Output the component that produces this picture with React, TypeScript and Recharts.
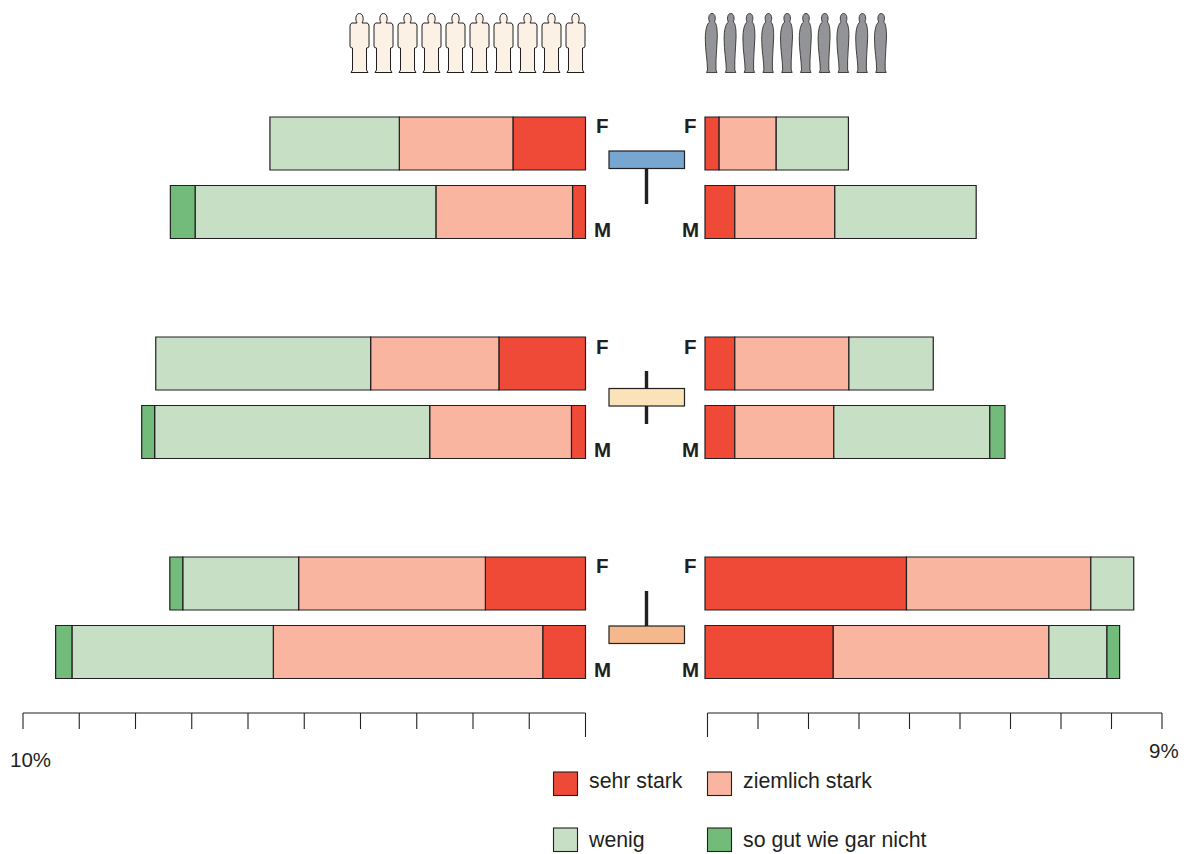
import { BarChart, Bar, XAxis, YAxis } from "recharts";

const rows = ["F", "M"];
const seriesNames = ["sehr stark", "ziemlich stark", "wenig", "so gut wie gar nicht"];
const seriesColors = ["#ef4938", "#f9b5a0", "#c7dfc5", "#72bb7b"];

// one list per group: [F, M] for each answer
const leftSehr = [[1.29, 0.23], [1.54, 0.25], [1.78, 0.76]];
const leftZiemlich = [[2.02, 2.43], [2.28, 2.52], [3.32, 4.79]];
const leftWenig = [[2.3, 4.28], [3.82, 4.89], [2.06, 3.58]];
const leftGar = [[0, 0.44], [0, 0.23], [0.23, 0.29]];

const rightSehr = [[0.28, 0.59], [0.59, 0.59], [3.99, 2.54]];
const rightZiemlich = [[1.13, 1.98], [2.26, 1.96], [3.65, 4.27]];
const rightWenig = [[1.43, 2.8], [1.67, 3.09], [0.85, 1.15]];
const rightGar = [[0, 0], [0, 0.3], [0, 0.25]];

const leftTicks = [0, 1, 2, 3, 4, 5, 6, 7, 8, 9, 10];
const rightTicks = [0, 1, 2, 3, 4, 5, 6, 7, 8, 9];
const leftMax = 10;
const rightMax = 9;
const leftAxisLabel = "10%";
const rightAxisLabel = "9%";

const ink = "#231f20";
const font = "'Liberation Sans', Arial, sans-serif";
const groupTops = [108.5, 328.5, 548.5];

function buildRows(lists: number[][][], g: number) {
  return rows.map((sex, r) => {
    const row: Record<string, any> = { sex };
    seriesNames.forEach((name, s) => {
      row[name] = lists[s][g][r];
    });
    return row;
  });
}

function GroupChart({ lists, g, reversed, max, left, width }: any) {
  // 2px of margin each side so the bar outlines are not cut off by the svg edge
  return (
    <div style={{ position: "absolute", left: left - 2, top: groupTops[g] }}>
      <BarChart
        width={width + 4}
        height={137}
        layout="vertical"
        data={buildRows(lists, g)}
        margin={{ top: 0, right: 2, bottom: 0, left: 2 }}
        barCategoryGap={0}
      >
        <XAxis type="number" hide domain={[0, max]} reversed={reversed} />
        <YAxis type="category" hide dataKey="sex" />
        {seriesNames.map((name, s) => (
          <Bar
            key={name}
            dataKey={name}
            stackId="a"
            barSize={53}
            fill={seriesColors[s]}
            stroke={ink}
            strokeWidth={1.2}
            isAnimationActive={false}
          />
        ))}
      </BarChart>
    </div>
  );
}

function AxisChart({ ticks, max, reversed, left, width, margin, zero, last, label, labelX, labelY, anchor }: any) {
  const renderTick = (props: any) => {
    const { x, y, payload } = props;
    const v = payload.value;
    return (
      <g>
        <line x1={x} x2={x} y1={y} y2={y + (v === zero ? 24 : 16)} stroke={ink} strokeWidth={1.1} />
        {v === last && (
          <text x={x + labelX} y={y + labelY} textAnchor={anchor} fontSize={20.5} fontFamily={font} fill={ink}>
            {label}
          </text>
        )}
      </g>
    );
  };
  return (
    <div style={{ position: "absolute", left, top: 711 }}>
      <BarChart width={width} height={62} data={ticks.map((t: number) => ({ t }))} margin={margin}>
        <XAxis
          type="number"
          dataKey="t"
          domain={[0, max]}
          ticks={ticks}
          interval={0}
          reversed={reversed}
          height={60}
          tickSize={0}
          tickMargin={0}
          tickLine={false}
          axisLine={{ stroke: ink, strokeWidth: 1.1 }}
          tick={renderTick}
        />
      </BarChart>
    </div>
  );
}

function Person({ x, fill }: { x: number; fill: string }) {
  return (
    <path
      transform={`translate(${x},13)`}
      d="M7 10 C5 7 5.5 0.5 9.5 0.5 C13.5 0.5 14 7 12 10 L17 10 Q19 10.5 19 13 L19 33 Q19 35 16.5 35 L16.5 57 L18 59.5 L1 59.5 L2.5 57 L2.5 35 Q0 35 0 33 L0 13 Q0 10.5 2 10 Z"
      fill={fill}
      stroke={ink}
      strokeWidth={1}
    />
  );
}

function Silhouette({ x }: { x: number }) {
  return (
    <path
      transform={`translate(${x},13)`}
      d="M4.5 9 C3 6 3.5 0.5 7 0.5 C10.5 0.5 11 6 9.5 9 C11.5 10.5 12.3 15 12.3 24 C12.3 32 11 40 11 48 L11 57 L12 59.5 L1.5 59.5 L2.5 57 C2.5 48 0.3 38 0.3 26 C0.3 16 2 11 4.5 9 Z"
      fill="#929497"
      stroke={ink}
      strokeWidth={0.8}
    />
  );
}

const persons = [0, 1, 2, 3, 4, 5, 6, 7, 8, 9];

// centre markers: box plus stems
const markers = [
  { y: 151, fill: "#77a6d1", stems: [[168, 204]] },
  { y: 388.5, fill: "#fae3b8", stems: [[371, 388], [406, 424]] },
  { y: 626, fill: "#f5b78c", stems: [[591, 626]] },
];
const letterBaselines = [
  [133, 237],
  [353.5, 457],
  [573, 677],
];
const legendCells = [
  { s: 0, x: 553.5, y: 772, textY: 788 },
  { s: 1, x: 707.5, y: 772, textY: 788 },
  { s: 2, x: 553.5, y: 828, textY: 847 },
  { s: 3, x: 707.5, y: 828, textY: 847 },
];

export default function App() {
  const leftLists = [leftSehr, leftZiemlich, leftWenig, leftGar];
  const rightLists = [rightSehr, rightZiemlich, rightWenig, rightGar];
  return (
    <div style={{ position: "absolute", left: 0, top: 0, width: 1184, height: 854, background: "#fff", overflow: "hidden" }}>
      {groupTops.map((_, g) => (
        <GroupChart key={"l" + g} lists={leftLists} g={g} reversed max={leftMax} left={22.75} width={562.5} />
      ))}
      {groupTops.map((_, g) => (
        <GroupChart key={"r" + g} lists={rightLists} g={g} reversed={false} max={rightMax} left={704.75} width={454.5} />
      ))}
      <AxisChart
        ticks={leftTicks}
        max={leftMax}
        reversed
        left={0}
        width={600}
        margin={{ top: 0, right: 14.5, bottom: 0, left: 23 }}
        zero={0}
        last={10}
        label={leftAxisLabel}
        labelX={-13}
        labelY={54}
        anchor="start"
      />
      <AxisChart
        ticks={rightTicks}
        max={rightMax}
        reversed={false}
        left={690}
        width={494}
        margin={{ top: 0, right: 22, bottom: 0, left: 17.5 }}
        zero={0}
        last={9}
        label={rightAxisLabel}
        labelX={-13}
        labelY={45}
        anchor="start"
      />
      <svg width={1184} height={854} style={{ position: "absolute", left: 0, top: 0, pointerEvents: "none" }}>
        {persons.map((i) => (
          <Person key={i} x={350 + i * 24} fill="#fbf2e5" />
        ))}
        {persons.map((i) => (
          <Silhouette key={i} x={705 + i * 18.8} />
        ))}
        {markers.map((m, i) => (
          <g key={i}>
            {m.stems.map(([a, b], j) => (
              <line key={j} x1={646.5} x2={646.5} y1={a} y2={b} stroke={ink} strokeWidth={3.4} />
            ))}
            <rect x={609} y={m.y} width={75.5} height={17.5} fill={m.fill} stroke={ink} strokeWidth={1.2} />
          </g>
        ))}
        {letterBaselines.map(([f, m], i) => (
          <g key={i} fontFamily={font} fontWeight={700} fontSize={20.5} fill={ink}>
            <text x={596} y={f}>F</text>
            <text x={684} y={f}>F</text>
            <text x={594} y={m}>M</text>
            <text x={682} y={m}>M</text>
          </g>
        ))}
        {legendCells.map((c) => (
          <g key={c.s}>
            <rect x={c.x} y={c.y} width={24} height={23.5} fill={seriesColors[c.s]} stroke={ink} strokeWidth={1.1} />
            <text x={c.x + 35.5} y={c.textY} fontFamily={font} fontSize={21.3} fill={ink}>
              {seriesNames[c.s]}
            </text>
          </g>
        ))}
      </svg>
    </div>
  );
}
